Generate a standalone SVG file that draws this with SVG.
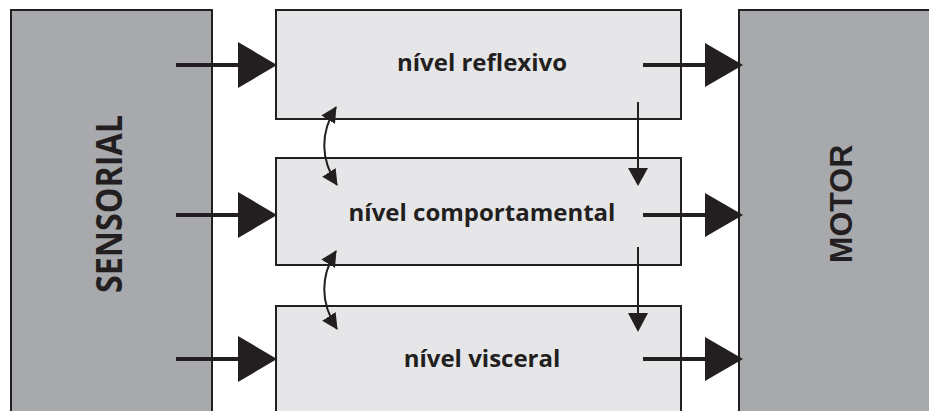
<svg xmlns="http://www.w3.org/2000/svg" width="929" height="411" viewBox="0 0 929 411">
  <style>
    .side { fill: #a7a9ac; stroke: #231f20; stroke-width: 2; }
    .level { fill: #e6e6e8; stroke: #231f20; stroke-width: 2; }
    .lbl { font-family: "Open Sans", "Liberation Sans", sans-serif; font-weight: bold; font-size: 24px; fill: #231f20; text-anchor: middle; }
    .big { font-weight: bold; fill: #231f20; text-anchor: middle; }
    .flow { stroke: #231f20; stroke-width: 4; fill: none; }
    .thin { stroke: #231f20; stroke-width: 2; fill: none; }
    .head { fill: #231f20; }
  </style>
  <defs>
    <marker id="tip" viewBox="0 0 16 16" refX="15" refY="8" markerWidth="16" markerHeight="16" markerUnits="userSpaceOnUse" orient="auto-start-reverse">
      <path d="M0,0 L16,8 L0,16 Z" fill="#231f20"/>
    </marker>
  </defs>

  <rect width="929" height="411" fill="#ffffff"/>

  <g id="sensorial">
    <rect class="side" x="11" y="10" width="201" height="410"/>
    <text class="big" transform="translate(122,204) rotate(-90)" style="font-family: 'Open Sans', 'Liberation Sans', sans-serif; font-size: 36px;" textLength="178" lengthAdjust="spacingAndGlyphs">SENSORIAL</text>
  </g>

  <g id="motor">
    <rect class="side" x="739" y="10" width="200" height="410"/>
    <text class="big" transform="translate(852,204) rotate(-90)" style="font-family: 'Liberation Sans', Arial, sans-serif; font-size: 32px;">MOTOR</text>
  </g>

  <g id="reflexivo">
    <rect class="level" x="276" y="10" width="405" height="109"/>
    <text class="lbl" x="482" y="71">nível reflexivo</text>
  </g>

  <g id="comportamental">
    <rect class="level" x="276" y="158" width="405" height="107"/>
    <text class="lbl" x="482" y="221">nível comportamental</text>
  </g>

  <g id="visceral">
    <rect class="level" x="276" y="306" width="405" height="120"/>
    <text class="lbl" x="482" y="367">nível visceral</text>
  </g>

  <g id="connectors">
    <!-- sensorial inputs -->
    <line class="flow" x1="176" y1="65" x2="242" y2="65"/>
    <polygon class="head" points="238,42 277,65 238,88"/>
    <line class="flow" x1="176" y1="215" x2="242" y2="215"/>
    <polygon class="head" points="238,192 277,215 238,238"/>
    <line class="flow" x1="176" y1="359" x2="242" y2="359"/>
    <polygon class="head" points="238,336 277,359 238,382"/>

    <!-- motor outputs -->
    <line class="flow" x1="643" y1="65" x2="708" y2="65"/>
    <polygon class="head" points="705,43 743,65 705,87"/>
    <line class="flow" x1="643" y1="215" x2="708" y2="215"/>
    <polygon class="head" points="705,193 743,215 705,237"/>
    <line class="flow" x1="643" y1="359" x2="708" y2="359"/>
    <polygon class="head" points="705,337 743,359 705,381"/>

    <!-- downward links -->
    <line class="thin" x1="638" y1="102" x2="638" y2="170"/>
    <polygon class="head" points="628,168 648,168 638,186"/>
    <line class="thin" x1="638" y1="247" x2="638" y2="315"/>
    <polygon class="head" points="628,313 648,313 638,332"/>

    <!-- two-way links between levels -->
    <path class="thin" d="M336,107 Q312,146 337,185" marker-start="url(#tip)" marker-end="url(#tip)"/>
    <path class="thin" d="M336,251 Q312,290 337,329" marker-start="url(#tip)" marker-end="url(#tip)"/>
  </g>
</svg>
